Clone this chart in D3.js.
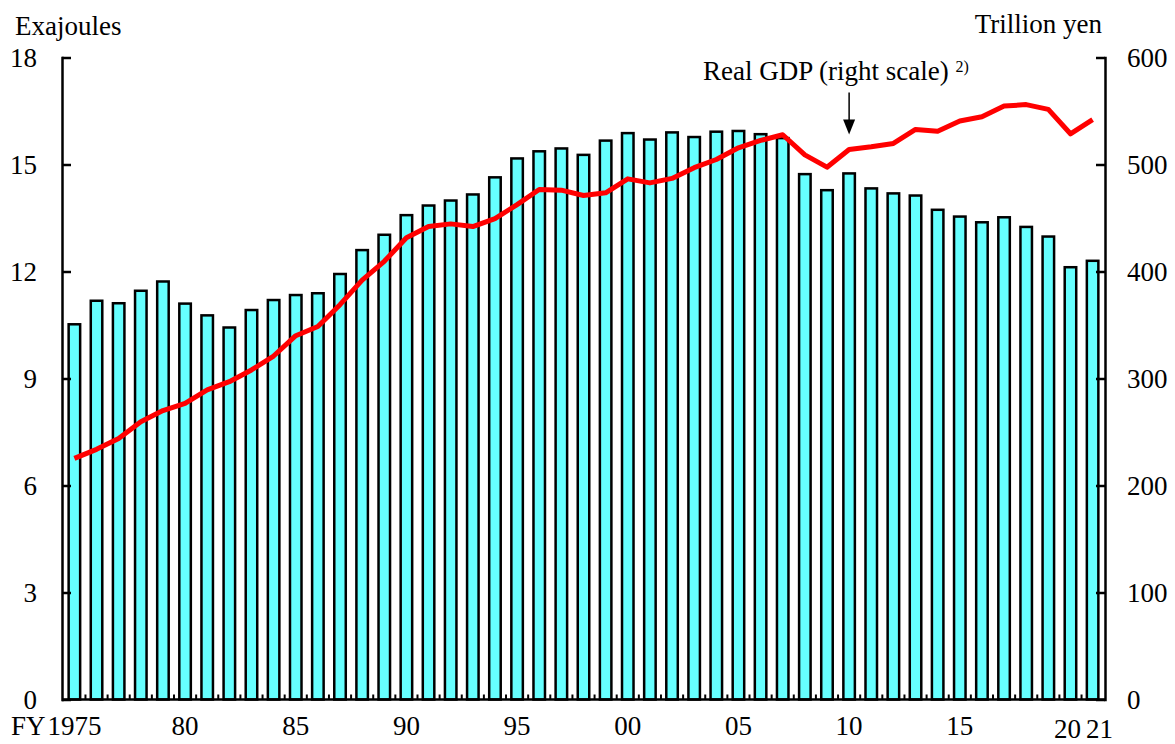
<!DOCTYPE html>
<html>
<head>
<meta charset="utf-8">
<script src="https://cdn.jsdelivr.net/npm/d3@7"></script>
<style>
  body { margin: 0; background: #fff; }
  text { font-family: "Liberation Serif", "Times New Roman", serif; fill: #000; }
</style>
</head>
<body>
<div id="chart"></div>
<script>
const years = [1975, 1976, 1977, 1978, 1979, 1980, 1981, 1982, 1983, 1984,
  1985, 1986, 1987, 1988, 1989, 1990, 1991, 1992, 1993, 1994,
  1995, 1996, 1997, 1998, 1999, 2000, 2001, 2002, 2003, 2004,
  2005, 2006, 2007, 2008, 2009, 2010, 2011, 2012, 2013, 2014,
  2015, 2016, 2017, 2018, 2019, 2020, 2021];

// final energy consumption, exajoules (left scale)
const energy = [10.52, 11.18, 11.11, 11.46, 11.72, 11.10, 10.77, 10.43, 10.92, 11.20,
  11.34, 11.39, 11.93, 12.60, 13.03, 13.58, 13.85, 13.99, 14.16, 14.64,
  15.17, 15.37, 15.45, 15.27, 15.67, 15.88, 15.70, 15.90, 15.77, 15.92,
  15.94, 15.85, 15.74, 14.73, 14.28, 14.75, 14.33, 14.19, 14.13, 13.73,
  13.54, 13.38, 13.52, 13.25, 12.98, 12.12, 12.30];

// real GDP, trillion yen (right scale)
const gdp = [225.4, 233.8, 244, 259.6, 270, 276.8, 289.3, 297, 308, 321,
  340, 348.6, 369, 392, 409.5, 431.5, 442, 444.5, 442, 449.4,
  462.5, 476.6, 476, 471, 473.5, 486.6, 482.8, 487, 497, 504.7,
  515.6, 522.5, 527.8, 509, 497.5, 514, 516.5, 519.7, 532.8, 531,
  540.6, 544.6, 554.6, 556, 551.5, 528.7, 542];

const labelYears = [1975, 1980, 1985, 1990, 1995, 2000, 2005, 2010, 2015, 2020, 2021];
const labelTexts = ["1975", "80", "85", "90", "95", "00", "05", "10", "15", "20", "21"];
const leftTicks = [0, 3, 6, 9, 12, 15, 18];
const rightTicks = [0, 100, 200, 300, 400, 500, 600];

const width = 1175, height = 744;
const margin = { top: 57.5, bottom: 44.5, left: 62, right: 70 };
const fs = 27;

const svg = d3.select('#chart').append('svg')
  .attr('width', width).attr('height', height);

const x = d3.scaleBand()
  .domain(years)
  .range([margin.left, width - margin.right])
  .paddingInner(0.48)
  .paddingOuter(0.3);

const y = d3.scaleLinear()
  .domain([0, 18])
  .range([height - margin.bottom, margin.top]);

const yR = d3.scaleLinear()
  .domain([0, 600])
  .range([height - margin.bottom, margin.top]);

const bw = x.bandwidth();
const cx = d => x(d) + bw / 2;

// bars
svg.append('g')
  .selectAll('rect')
  .data(years)
  .join('rect')
    .attr('x', d => x(d))
    .attr('y', (d, i) => y(energy[i]))
    .attr('width', bw)
    .attr('height', (d, i) => y(0) - y(energy[i]))
    .attr('fill', '#66ffff')
    .attr('stroke', '#000')
    .attr('stroke-width', 2.5);

// x axis line + small ticks between bars
svg.append('line')
  .attr('x1', margin.left).attr('x2', width - margin.right)
  .attr('y1', y(0)).attr('y2', y(0))
  .attr('stroke', '#000').attr('stroke-width', 2.5);

svg.append('g')
  .selectAll('line')
  .data(years.slice(1))
  .join('line')
    .attr('x1', d => x(d) - x.step() * x.paddingInner() / 2)
    .attr('x2', d => x(d) - x.step() * x.paddingInner() / 2)
    .attr('y1', y(0)).attr('y2', y(0) - 5)
    .attr('stroke', '#000').attr('stroke-width', 2);

// left axis
function yAxis(g) {
  g.attr('transform', `translate(${margin.left},0)`)
    .call(d3.axisLeft(y).tickValues(leftTicks).tickSize(-9).tickSizeOuter(0).tickPadding(25))
    .attr('font-family', null)
    .call(g => g.selectAll('line, path').attr('stroke', '#000').attr('stroke-width', 2.5))
    .call(g => g.selectAll('text').attr('font-size', fs));
}

// right axis
function yRAxis(g) {
  g.attr('transform', `translate(${width - margin.right},0)`)
    .call(d3.axisRight(yR).tickValues(rightTicks).tickSize(-9).tickSizeOuter(0).tickPadding(22))
    .attr('font-family', null)
    .call(g => g.selectAll('line, path').attr('stroke', '#000').attr('stroke-width', 2.5))
    .call(g => g.selectAll('text').attr('font-size', fs));
}

svg.append('g').call(yAxis);
svg.append('g').call(yRAxis);
svg.selectAll('.domain').attr('stroke-linecap', 'square');

// x labels (20 and 21 sit a bit lower and spread apart)
const labelShift = { 2020: -3, 2021: 7 };
svg.append('g')
  .selectAll('text')
  .data(labelYears)
  .join('text')
    .attr('x', d => cx(d) + (labelShift[d] || 0))
    .attr('y', d => d >= 2020 ? y(0) + 38 : y(0) + 35)
    .attr('text-anchor', 'middle')
    .attr('font-size', fs)
    .text((d, i) => labelTexts[i]);

svg.append('text')
  .attr('x', cx(labelYears[0]) - 29)
  .attr('y', y(0) + 35)
  .attr('text-anchor', 'end')
  .attr('font-size', fs)
  .text('FY');

// axis titles
svg.append('text')
  .attr('x', 15).attr('y', 35)
  .attr('font-size', fs)
  .text('Exajoules');

svg.append('text')
  .attr('x', width - margin.right - 3).attr('y', 33)
  .attr('text-anchor', 'end')
  .attr('font-size', fs)
  .text('Trillion yen');

// GDP line
const line = d3.line()
  .x(d => cx(d))
  .y((d, i) => yR(gdp[i]));

svg.append('path')
  .datum(years)
  .attr('d', line)
  .attr('fill', 'none')
  .attr('stroke', '#ff0000')
  .attr('stroke-width', 5)
  .attr('stroke-linejoin', 'round');

// annotation
const ax = cx(2010);
const tipY = yR(gdp[years.indexOf(2010)]) - 15;
svg.append('line')
  .attr('x1', ax).attr('x2', ax)
  .attr('y1', tipY - 42).attr('y2', tipY - 12)
  .attr('stroke', '#000').attr('stroke-width', 1.5);
svg.append('path')
  .attr('d', `M${ax - 6},${tipY - 15}L${ax + 6},${tipY - 15}L${ax},${tipY}Z`)
  .attr('fill', '#000');

const note = svg.append('text')
  .attr('x', ax - 146).attr('y', 80)
  .attr('font-size', fs);
note.append('tspan').text('Real GDP (right scale) ');
note.append('tspan').attr('font-size', 16).attr('dy', -8).text('2)');
</script>
</body>
</html>
